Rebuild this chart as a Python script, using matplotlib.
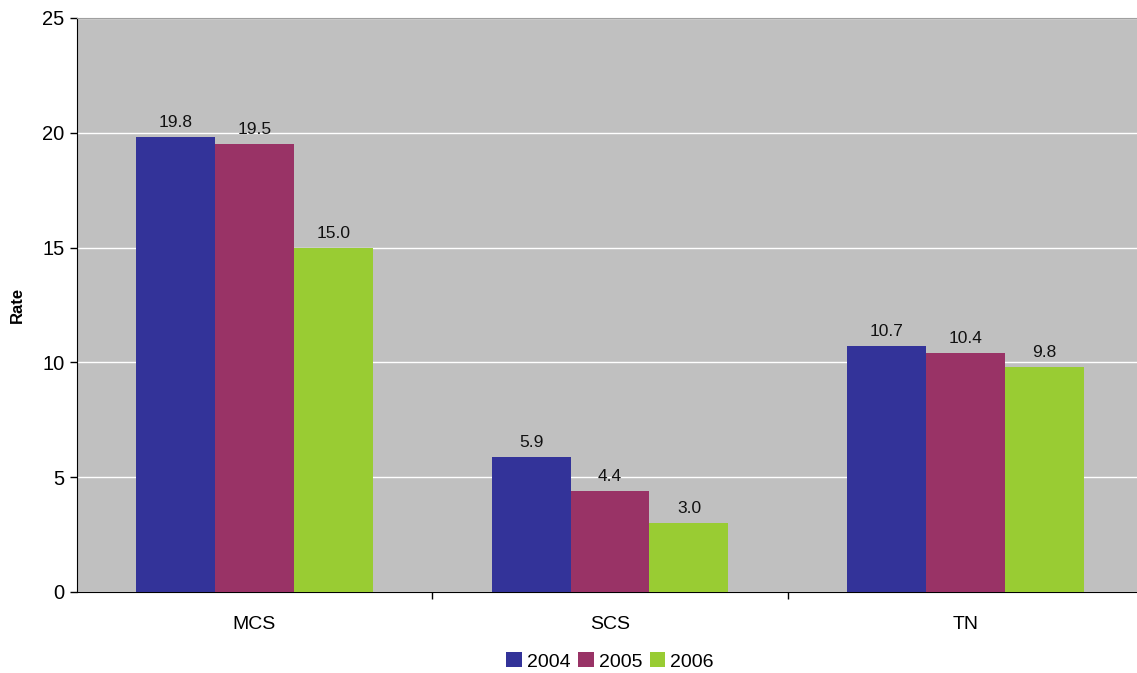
import matplotlib
matplotlib.use("Agg")
import matplotlib.pyplot as plt
import numpy as np

plt.rcParams['font.family'] = ['Liberation Sans', 'DejaVu Sans']

categories = ["MCS", "SCS", "TN"]
years = ["2004", "2005", "2006"]
values_2004 = [19.8, 5.9, 10.7]
values_2005 = [19.5, 4.4, 10.4]
values_2006 = [15.0, 3.0, 9.8]
colors = ["#333399", "#993366", "#99CC33"]

fig = plt.figure(figsize=(11.37, 6.73), dpi=100)
ax = fig.add_axes([76.75 / 1137, 0.1204, 1066.5 / 1137, 0.8529])
ax.set_facecolor("#C0C0C0")

x = np.arange(len(categories))
w = 0.2222
series = [values_2004, values_2005, values_2006]
for i, (vals, yr, c) in enumerate(zip(series, years, colors)):
    bars = ax.bar(x + (i - 1) * w, vals, width=w, color=c, label=yr, zorder=3)
    for b, v in zip(bars, vals):
        ax.text(b.get_x() + b.get_width() / 2, v + 0.3, f"{v:.1f}",
                ha="center", va="bottom", fontsize=12.5, color="#111111", zorder=4)

ax.set_xlim(-0.5, 2.5)
ax.set_ylim(0, 25)
ax.set_yticks([0, 5, 10, 15, 20, 25])
ax.yaxis.grid(True, color="white", linewidth=1, zorder=1)
ax.set_axisbelow(True)
ax.set_xticks(x)
ax.set_xticklabels(categories, fontsize=14)
ax.set_xticks([0.5, 1.5], minor=True)
ax.tick_params(axis="x", which="major", length=0, pad=17)
ax.tick_params(axis="x", which="minor", length=5, width=1, direction="out")
ax.tick_params(axis="y", length=5, width=1, direction="out", labelsize=14.5, pad=4)
ax.spines["right"].set_visible(False)
ax.spines["top"].set_color("#A0A0A0")
ax.spines["left"].set_color("black")
ax.spines["bottom"].set_color("black")

ax.set_ylabel("Rate", fontsize=12, fontweight="bold", labelpad=12)

leg = ax.legend(loc="center", bbox_to_anchor=((610 - 76.75) / 1066.5, -0.121), ncol=3,
                frameon=False, fontsize=14, handlelength=0.8, handleheight=0.8,
                handletextpad=0.25, borderpad=0.1, columnspacing=0.4)

fig.savefig("out.png", dpi=100)
